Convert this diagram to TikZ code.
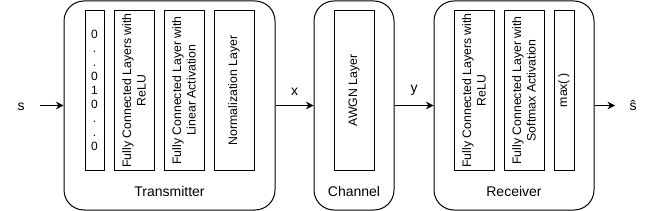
\documentclass[tikz,border=0pt]{standalone}
\usepackage{fontspec}
\setmainfont{Liberation Sans}
\usetikzlibrary{positioning,arrows.meta}
\begin{document}
\begin{tikzpicture}[x=1pt, y=-1pt, >={Stealth[length=7.5pt,width=7.5pt]},
		block/.style={draw, line width=1pt, rounded corners=20pt, minimum width=#1, minimum height=209pt},
		layer/.style={draw, line width=1pt, rotate=90, minimum width=159pt, minimum height=#1, inner sep=1pt, align=center, font=\fontsize{12.3}{14.5}\selectfont},
		lbl/.style={font=\fontsize{14}{16}\selectfont}]
		\useasboundingbox (0,0) rectangle (655,211);
		
		% 三个外框
		\node[block=211pt] (tx) at (169.5,105.5) {};
		\node[block=80pt] (ch) at (354,105.5) {};
		\node[block=160pt] (rx) at (514,105.5) {};
		\node[lbl] (txlbl) at (169.5,191) {Transmitter};
		\node[lbl] (chlbl) at (354,191) {Channel};
		\node[lbl] (rxlbl) at (514,191) {Receiver};
		
		% 发送端各层
		\node[draw, line width=1pt, minimum width=19pt, minimum height=159pt, inner sep=0pt, align=center, font=\fontsize{12}{14}\selectfont] (onehot) at (94.5,90.5) {0\\.\\.\\0\\1\\0\\.\\.\\0};
		\node[layer=40pt] (txrelu) at (134,90.5) {Fully Connected Layers with\\ReLU};
		\node[layer=40pt] (txlin) at (184,90.5) {Fully Connected Layer with\\Linear Activation};
		\node[layer=40pt] (norm) at (234,90.5) {Normalization Layer};
		
		% 信道
		\node[layer=40pt] (awgn) at (354,90.5) {AWGN Layer};
		
		% 接收端各层
		\node[layer=40pt] (rxrelu) at (474,90.5) {Fully Connected Layers with\\ReLU};
		\node[layer=40pt] (rxsoft) at (524,90.5) {Fully Connected Layer with\\Softmax Activation};
		\node[layer=20pt] (argmax) at (564,90.5) {max(\,)};
		
		% 连线
		\coordinate (in) at (40,105.5);
		\coordinate (out) at (615,105.5);
		\node[lbl] (s) at (21,106.5) {s};
		\node[lbl] (shat) at (633,105) {ŝ};
		\draw[->, line width=1pt] (in) -- (tx);
		\draw[->, line width=1pt] (tx) -- node[lbl, above=6pt] (x) {x} (ch);
		\draw[->, line width=1pt] (ch) -- node[lbl, above=6pt] (y) {y} (rx);
		\draw[->, line width=1pt] (rx) -- (out);
\end{tikzpicture}
\end{document}
